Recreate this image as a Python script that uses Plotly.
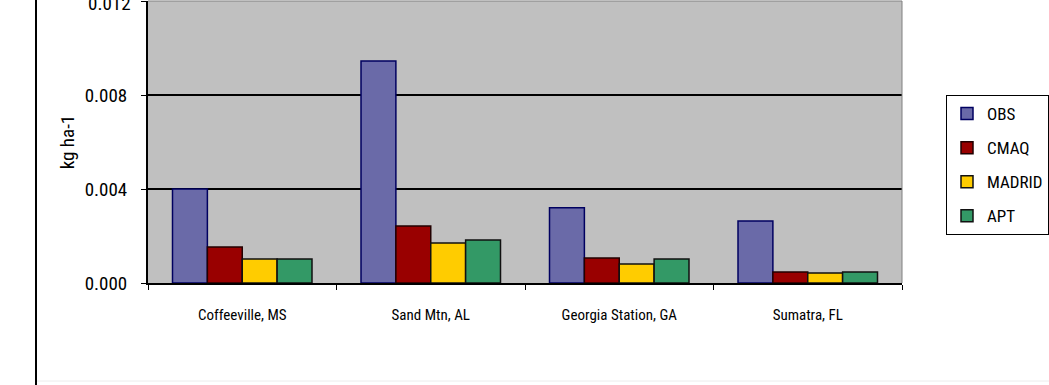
import plotly.graph_objects as go

categories = ["Coffeeville, MS", "Sand Mtn, AL", "Georgia Station, GA", "Sumatra, FL"]
obs = [0.0040, 0.00945, 0.0032, 0.00264]
cmaq = [0.00153, 0.00243, 0.00106, 0.00047]
madrid = [0.00102, 0.0017, 0.00081, 0.00043]
apt = [0.00102, 0.00183, 0.00102, 0.00047]
series_names = ["OBS", "CMAQ", "MADRID", "APT"]
y_tickvals = [0.0, 0.004, 0.008, 0.012]
y_ticktext = ["0.000", "0.004", "0.008", ""]
top_tick_label = "0.012"
y_title = "kg ha-1"

FONT = "Roboto Condensed, DejaVu Sans Condensed, Arial, sans-serif"

fills = ["#6a6aa8", "#990000", "#ffcc00", "#339966"]
edges = ["#000060", "#220000", "#111111", "#111111"]

fig = go.Figure()
for i, (name, vals) in enumerate(zip(series_names, [obs, cmaq, madrid, apt])):
    fig.add_trace(go.Bar(
        x=categories, y=vals, name=name,
        marker=dict(color=fills[i], line=dict(color=edges[i], width=1.5)),
        legendgroup=name,
    ))

L, R, T, B = 148, 147, 1, 102
W, H = 1049, 385
pw = W - L - R
ph = H - T - B

def px2x(px):
    return (px - L) / pw

def py2y(py):
    return (H - B - py) / ph

fig.update_layout(
    width=W, height=H,
    margin=dict(l=L, r=R, t=T, b=B, pad=0, autoexpand=False),
    paper_bgcolor="white",
    plot_bgcolor="#c0c0c0",
    barmode="group",
    bargap=0.26,
    bargroupgap=0,
    font=dict(family=FONT, size=14, color="black"),
    legend=dict(
        x=px2x(946), y=py2y(95), xanchor="left", yanchor="top",
        bgcolor="white", bordercolor="black", borderwidth=1,
        font=dict(family=FONT, size=17, color="black"),
        traceorder="grouped", tracegroupgap=9,
        itemwidth=30,
    ),
    xaxis=dict(
        type="category",
        showline=True, linecolor="black", linewidth=2,
        ticks="outside", tickson="boundaries", ticklen=5, tickcolor="black", tickwidth=1,
        showgrid=False,
        ticklabelstandoff=17,
        tickfont=dict(family=FONT, size=15, color="black"),
    ),
    yaxis=dict(
        range=[0, 0.012],
        tickvals=y_tickvals, ticktext=y_ticktext,
        showline=True, linecolor="black", linewidth=2,
        ticks="outside", ticklen=5, tickcolor="black",
        showgrid=True, gridcolor="black", gridwidth=2,
        zeroline=False,
        ticklabelstandoff=10,
        tickfont=dict(family=FONT, size=19, color="black"),
        title=dict(text=y_title, font=dict(family=FONT, size=19, color="black"), standoff=5),
    ),
    annotations=[
        dict(text=top_tick_label, xref="paper", yref="paper", x=px2x(133), y=py2y(3),
             xanchor="right", yanchor="middle", showarrow=False,
             font=dict(family=FONT, size=19, color="black")),
    ],
    shapes=[
        dict(type="line", xref="paper", yref="paper", x0=0, x1=1, y0=1, y1=1,
             line=dict(color="#808080", width=1), layer="above"),
        dict(type="line", xref="paper", yref="paper", x0=1, x1=1, y0=0, y1=1,
             line=dict(color="#808080", width=1), layer="above"),
        dict(type="line", xref="paper", yref="paper", x0=px2x(36), x1=px2x(36), y0=py2y(0), y1=py2y(385),
             line=dict(color="black", width=2)),
        dict(type="line", xref="paper", yref="paper", x0=px2x(37), x1=px2x(1049), y0=py2y(381), y1=py2y(381),
             line=dict(color="#ececec", width=1)),
    ],
)

fig.write_html("out.html")
